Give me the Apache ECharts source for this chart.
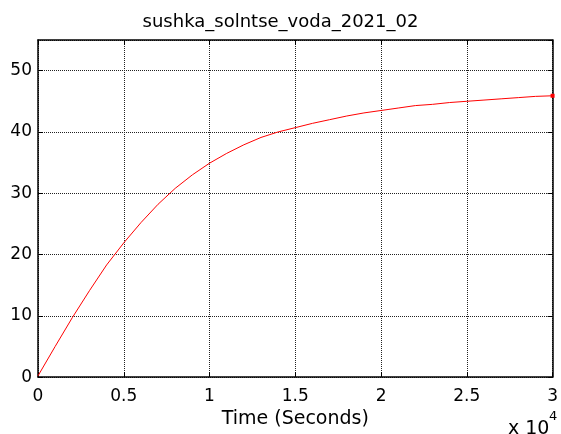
<!DOCTYPE html>
<html>
<head>
<meta charset="utf-8">
<script src="https://cdn.jsdelivr.net/npm/echarts@6/dist/echarts.min.js"></script>
<style>
  html, body { margin: 0; padding: 0; background: #fff; }
  #chart { width: 561px; height: 434px; }
</style>
</head>
<body>
<div id="chart"></div>
<script>
// Simulated water temperature during solar drying, sampled every 1000 s
const timeSec = [0, 1000, 2000, 3000, 4000, 5000, 6000, 7000, 8000, 9000,
  10000, 11000, 12000, 13000, 14000, 15000, 16000, 17000, 18000, 19000,
  20000, 21000, 22000, 23000, 24000, 25000, 26000, 27000, 28000, 29000, 30000];
const waterTemp = [0.2, 5.0, 9.7, 14.1, 18.3, 21.9, 25.2, 28.2, 30.8, 33.0,
  34.9, 36.5, 37.9, 39.1, 40.0, 40.7, 41.4, 42.0, 42.6, 43.1,
  43.5, 43.9, 44.3, 44.5, 44.8, 45.0, 45.2, 45.4, 45.6, 45.8, 45.9];
const xTicks = [0, 5000, 10000, 15000, 20000, 25000, 30000];
const yTicks = [0, 10, 20, 30, 40, 50];
const chartTitle = 'sushka_solntse_voda_2021_02';
const xAxisTitle = 'Time (Seconds)';

const FONT = '"DejaVu Sans", "Liberation Sans", Arial, sans-serif';

const seriesData = timeSec.map((t, i) => {
  const item = { value: [t, waterTemp[i]] };
  if (i === timeSec.length - 1) {
    item.symbol = 'rect';
    item.symbolSize = 4;
  }
  return item;
});

const chart = echarts.init(document.getElementById('chart'), null, { renderer: 'canvas' });
chart.setOption({
  animation: false,
  backgroundColor: '#fff',
  title: {
    text: chartTitle,
    left: 'center',
    top: 8,
    textStyle: { fontFamily: FONT, fontSize: 18, fontWeight: 'normal', color: '#000' }
  },
  grid: { left: 38, right: 5, top: 40, bottom: 56, containLabel: false },
  xAxis: [
    {
      type: 'value', position: 'bottom',
      min: xTicks[0], max: xTicks[xTicks.length - 1], interval: 5000,
      name: xAxisTitle, nameLocation: 'middle', nameGap: 30,
      nameTextStyle: { fontFamily: FONT, fontSize: 19, color: '#000' },
      axisLine: { show: true, onZero: false, lineStyle: { color: '#000', width: 1.5 } },
      axisTick: { show: true, inside: true, length: 5, lineStyle: { color: '#000' } },
      axisLabel: {
        fontFamily: FONT, fontSize: 17, color: '#000', margin: 11,
        formatter: v => String(v / 10000)
      },
      splitLine: { show: true, lineStyle: { color: '#222', type: [1, 1], width: 1 } }
    },
    {
      type: 'value', position: 'top',
      min: xTicks[0], max: xTicks[xTicks.length - 1], interval: 5000,
      axisLine: { show: true, onZero: false, lineStyle: { color: '#000', width: 1.5 } },
      axisTick: { show: true, inside: true, length: 5, lineStyle: { color: '#000' } },
      axisLabel: { show: false },
      splitLine: { show: false }
    }
  ],
  yAxis: [
    {
      type: 'value', position: 'left',
      min: 0, max: 55, interval: 10,
      axisLine: { show: true, onZero: false, lineStyle: { color: '#000', width: 1.5 } },
      axisTick: { show: true, inside: true, length: 5, lineStyle: { color: '#000' } },
      axisLabel: {
        fontFamily: FONT, fontSize: 17, color: '#000', margin: 6,
        showMaxLabel: false,
        formatter: v => (yTicks.indexOf(v) >= 0 ? String(v) : '')
      },
      splitLine: { show: true, lineStyle: { color: '#222', type: [1, 1], width: 1 } }
    },
    {
      type: 'value', position: 'right',
      min: 0, max: 55, interval: 10,
      axisLine: { show: true, onZero: false, lineStyle: { color: '#000', width: 1.5 } },
      axisTick: { show: true, inside: true, length: 5, lineStyle: { color: '#000' } },
      axisLabel: { show: false },
      splitLine: { show: false }
    }
  ],
  graphic: [
    {
      type: 'text',
      left: 508, top: 420,
      style: { text: 'x 10', fontFamily: FONT, fontSize: 19, fill: '#000' }
    },
    {
      type: 'text',
      left: 549, top: 410,
      style: { text: '4', fontFamily: FONT, fontSize: 13, fill: '#000' }
    }
  ],
  series: [
    {
      type: 'line',
      xAxisIndex: 0, yAxisIndex: 0,
      data: seriesData,
      symbol: 'none',
      lineStyle: { color: '#ff0000', width: 1 },
      itemStyle: { color: '#ff0000' }
    }
  ]
});
</script>
</body>
</html>
